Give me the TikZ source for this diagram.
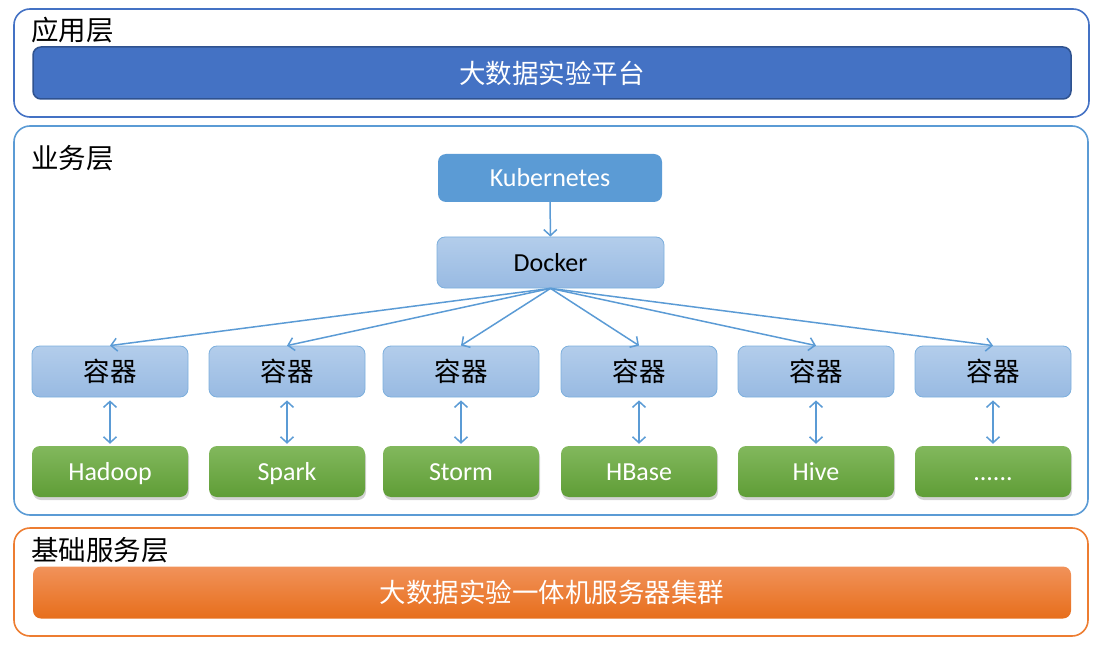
\documentclass[tikz,border=0pt]{standalone}
\usepackage{fontspec}
\setmainfont{Carlito}
\newfontfamily\cjk{Noto Sans CJK SC}
\usepackage{xcolor}
\usetikzlibrary{arrows.meta,shadows}

\definecolor{appblue}{HTML}{4472C4}
\definecolor{appedge}{HTML}{2F528F}
\definecolor{bizblue}{HTML}{5B9BD5}
\definecolor{boxtop}{HTML}{B3CDEB}
\definecolor{boxbot}{HTML}{98BAE2}
\definecolor{greentop}{HTML}{82B85D}
\definecolor{greenbot}{HTML}{5F9D36}
\definecolor{baseorange}{HTML}{ED7D31}
\definecolor{orangetop}{HTML}{F1925A}
\definecolor{orangebot}{HTML}{E76E1B}

\newcommand{\moretools}{......}

\tikzset{
  zh/.style={font=\cjk\fontsize{26.5}{30}\selectfont},
  en/.style={font=\fontsize{26}{30}\selectfont, text height=22pt, text depth=4pt},
  layer/.style={rounded corners=16pt, line width=1.6pt},
  bar/.style={rounded corners=8pt, minimum width=1038pt, minimum height=52pt, text=white, zh},
  unit/.style={rounded corners=8pt, minimum width=156pt, minimum height=51pt, inner sep=0pt},
  bluebox/.style={unit, draw=bizblue!80, line width=0.8pt, top color=boxtop, bottom color=boxbot, zh},
  greenbox/.style={unit, top color=greentop, bottom color=greenbot, text=white, en,
    drop shadow={opacity=0.35, shadow xshift=1pt, shadow yshift=-3pt}},
  link/.style={draw=bizblue, line width=1.5pt, -{Straight Barb[length=6pt,width=13pt]}},
}

\begin{document}
\begin{tikzpicture}[x=1pt, y=-1pt]
\useasboundingbox (0,0) rectangle (1113,652);

% application layer
\draw[layer, draw=appblue] (14,9) rectangle (1089,117);
\node[zh, font=\cjk\fontsize{27.5}{30}\selectfont, anchor=west, inner sep=0pt] (applabel) at (31,30) {应用层};
\node[bar, fill=appblue, draw=appedge, line width=1.5pt] (platform) at (552,73) {大数据实验平台};

% business layer
\draw[layer, draw=bizblue] (14,126) rectangle (1088,515);
\node[zh, font=\cjk\fontsize{27.5}{30}\selectfont, anchor=west, inner sep=0pt] (bizlabel) at (31,158) {业务层};
\node[unit, fill=bizblue, minimum width=224pt, minimum height=48pt, text=white, en] (kube) at (550,178) {Kubernetes};
\node[bluebox, minimum width=227pt, en] (docker) at (550.5,262.5) {Docker};
\draw[link] (kube) -- (docker);

\foreach \i/\x/\name in {1/110/Hadoop, 2/287/Spark, 3/461/Storm, 4/639/HBase, 5/816/Hive, 6/993/\moretools}{
  \node[bluebox] (c\i) at (\x,371.5) {容器};
  \node[greenbox] (g\i) at (\x,471.5) {\name};
  \draw[link] (docker.south) -- (c\i.north);
  \draw[link, {Straight Barb[length=6pt,width=13pt]}-{Straight Barb[length=6pt,width=13pt]},
    shorten <=3pt, shorten >=2pt] (c\i) -- (g\i);
}

% base service layer
\draw[layer, draw=baseorange] (14,528) rectangle (1088,636);
\node[zh, font=\cjk\fontsize{27.5}{30}\selectfont, anchor=west, inner sep=0pt] (baselabel) at (31,550) {基础服务层};
\node[bar, top color=orangetop, bottom color=orangebot] (cluster) at (552,592.5) {大数据实验一体机服务器集群};

\end{tikzpicture}
\end{document}
